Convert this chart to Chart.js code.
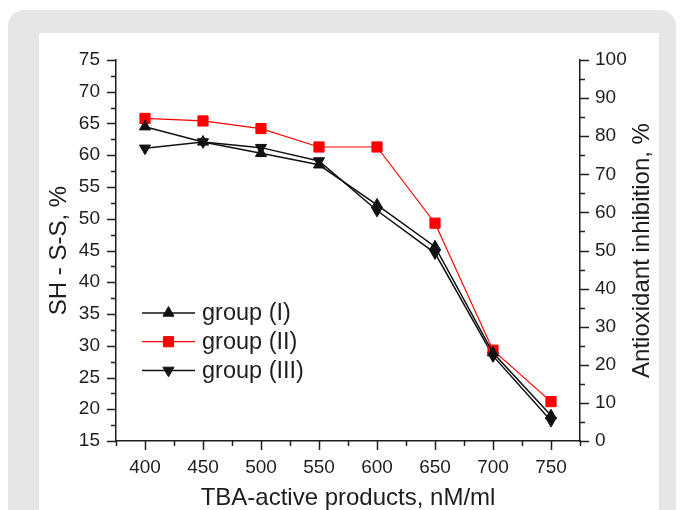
<!DOCTYPE html>
<html>
<head>
<meta charset="utf-8">
<script src="https://cdn.jsdelivr.net/npm/chart.js@4/dist/chart.umd.min.js"></script>
<style>
  html, body { margin: 0; padding: 0; background: #fff; width: 684px; height: 510px; overflow: hidden; }
  .frame { position: absolute; left: 8px; top: 10px; width: 668px; height: 560px; background: #e6e6e6; border-radius: 16px; }
  .panel { position: absolute; left: 39px; top: 33px; width: 620px; height: 540px; background: #fff; }
  #chart { position: absolute; left: 0; top: 0; }
</style>
</head>
<body>
<div class="frame"></div>
<div class="panel"></div>
<canvas id="chart" width="684" height="510"></canvas>
<script>
// TBA-active products, nM/ml
const xValues = [400, 450, 500, 550, 600, 650, 700, 750];
// SH - S-S, % (left axis)
const groupI   = [64.5, 62.1, 60.3, 58.5, 52.2, 45.6, 28.9, 19.0];
const groupII  = [65.8, 65.4, 64.2, 61.3, 61.3, 49.3, 29.3, 21.2];
const groupIII = [61.1, 62.1, 61.2, 59.1, 51.3, 44.6, 28.4, 18.2];
const seriesLabels = ['group (I)', 'group (II)', 'group (III)'];

const FONT = "'Liberation Sans', Arial, sans-serif";
const INK = '#1e1e1e';

const toPoints = ys => xValues.map((x, i) => ({ x: x, y: ys[i] }));

// Origin-style tick marks: long for labelled ticks, short for the minor ones
const tickMarks = {
    id: 'tickMarks',
    afterDraw(chart) {
        const ctx = chart.ctx;
        ctx.save();
        ctx.strokeStyle = INK;
        ctx.lineWidth = 1.5;
        ['x', 'y', 'y2'].forEach(id => {
            const scale = chart.scales[id];
            scale.ticks.forEach(t => {
                const len = t.label !== '' ? 9 : 5;
                const p = Math.round(scale.getPixelForValue(t.value)) + 0.5;
                ctx.beginPath();
                if (id === 'x') {
                    ctx.moveTo(p, scale.top);
                    ctx.lineTo(p, scale.top + len);
                } else if (id === 'y') {
                    ctx.moveTo(scale.right, p);
                    ctx.lineTo(scale.right - len, p);
                } else {
                    ctx.moveTo(scale.left, p);
                    ctx.lineTo(scale.left + len, p);
                }
                ctx.stroke();
            });
        });

        // right axis title, reading bottom to top like the left one
        ctx.translate(642.5, (chart.chartArea.top + chart.chartArea.bottom) / 2);
        ctx.rotate(-Math.PI / 2);
        ctx.fillStyle = INK;
        ctx.font = '24px ' + FONT;
        ctx.textAlign = 'center';
        ctx.textBaseline = 'middle';
        ctx.fillText('Antioxidant inhibition, %', 0, 0);
        ctx.restore();
    }
};

// legend with line - marker - line symbols
const lineLegend = {
    id: 'lineLegend',
    afterDraw(chart) {
        const ctx = chart.ctx;
        const x0 = 142, x1 = 195, rowY = 313, rowGap = 28.7;
        ctx.save();
        chart.data.datasets.forEach((ds, i) => {
            const y = rowY + i * rowGap;
            ctx.strokeStyle = ds.borderColor;
            ctx.lineWidth = ds.borderWidth;
            ctx.beginPath();
            ctx.moveTo(x0, y);
            ctx.lineTo(x1, y);
            ctx.stroke();
            ctx.fillStyle = ds.pointBackgroundColor;
            ctx.strokeStyle = ds.pointBorderColor;
            ctx.lineWidth = 1;
            Chart.helpers.drawPoint(ctx, {
                pointStyle: ds.pointStyle,
                rotation: ds.pointRotation,
                radius: ds.pointRadius,
                borderWidth: 1
            }, (x0 + x1) / 2, y);
            ctx.fillStyle = INK;
            ctx.font = '23.5px ' + FONT;
            ctx.textAlign = 'left';
            ctx.textBaseline = 'middle';
            ctx.fillText(ds.label, 202, y + 1);
        });
        ctx.restore();
    }
};

function series(label, ys, color, style, rotation, radius) {
    return {
        label: label,
        data: toPoints(ys),
        borderColor: color,
        borderWidth: color === 'red' ? 1.2 : 1.5,
        backgroundColor: color,
        pointBackgroundColor: color,
        pointBorderColor: color,
        pointBorderWidth: 1,
        pointStyle: style,
        pointRotation: rotation,
        pointRadius: radius,
        pointHoverRadius: radius,
        tension: 0,
        yAxisID: 'y'
    };
}

new Chart(document.getElementById('chart').getContext('2d'), {
    type: 'line',
    data: {
        datasets: [
            series(seriesLabels[0], groupI, '#111', 'triangle', 0, 6.4),
            series(seriesLabels[1], groupII, 'red', 'rect', 0, 7.2),
            series(seriesLabels[2], groupIII, '#111', 'triangle', 180, 6.4)
        ]
    },
    options: {
        responsive: false,
        animation: false,
        layout: { padding: { top: 60, left: 0, right: 0, bottom: 0 } },
        plugins: { legend: { display: false }, tooltip: { enabled: false } },
        scales: {
            x: {
                type: 'linear',
                min: 375,
                max: 775,
                grid: { display: false, drawTicks: false },
                border: { display: true, color: INK, width: 1.5 },
                ticks: {
                    stepSize: 25,
                    autoSkip: false,
                    maxRotation: 0,
                    padding: 15,
                    color: INK,
                    font: { family: FONT, size: 19 },
                    callback: v => (v % 50 === 0 ? String(v) : '')
                },
                title: {
                    display: true,
                    text: 'TBA-active products, nM/ml',
                    color: INK,
                    font: { family: FONT, size: 24, lineHeight: 1 },
                    padding: 0
                },
                afterFit: s => { s.height = 69; }
            },
            y: {
                position: 'left',
                min: 15,
                max: 75,
                grid: { display: false, drawTicks: false },
                border: { display: true, color: INK, width: 1.5 },
                ticks: {
                    stepSize: 2.5,
                    autoSkip: false,
                    maxTicksLimit: 100,
                    padding: 16,
                    color: INK,
                    font: { family: FONT, size: 19 },
                    callback: v => (v % 5 === 0 ? String(v) : '')
                },
                title: {
                    display: true,
                    text: 'SH - S-S, %',
                    color: INK,
                    font: { family: FONT, size: 24, lineHeight: 1 },
                    padding: { top: 47, bottom: 0 }
                },
                afterFit: s => { s.width = 116; }
            },
            y2: {
                position: 'right',
                min: 0,
                max: 100,
                grid: { display: false, drawTicks: false },
                border: { display: true, color: INK, width: 1.5 },
                ticks: {
                    stepSize: 5,
                    autoSkip: false,
                    maxTicksLimit: 100,
                    padding: 15,
                    color: INK,
                    font: { family: FONT, size: 19 },
                    callback: v => (v % 10 === 0 ? String(v) : '')
                },
                afterFit: s => { s.width = 104; }
            }
        }
    },
    plugins: [tickMarks, lineLegend]
});
</script>
</body>
</html>
